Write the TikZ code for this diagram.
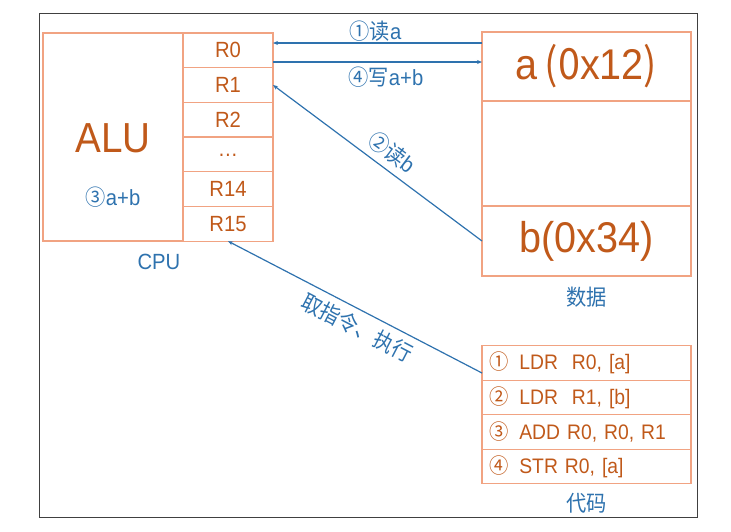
\documentclass[tikz,border=0pt]{standalone}
\usepackage{fontspec}
\setmainfont{Liberation Sans}[FakeStretch=0.92]
\newfontfamily\cjk{Noto Sans CJK SC}[FakeStretch=0.92]
\usetikzlibrary{arrows.meta, positioning}

\definecolor{salmon}{HTML}{F1A382}
\definecolor{rust}{HTML}{C0591A}
\definecolor{cpublue}{HTML}{2E72AE}

\begin{document}
\begin{tikzpicture}[
    x=1pt, y=-1pt,
    block/.style={rectangle, draw=salmon, line width=1.2pt, inner sep=0pt, outer sep=0pt},
    reg/.style={block, minimum width=90pt, minimum height=34.7pt, text=rust, font=\fontsize{22}{22}\selectfont},
    mem/.style={block, minimum width=209pt, text=rust, font=\fontsize{43}{43}\selectfont},
    codebox/.style={block, minimum height=34.5pt, text width=195pt, inner xsep=7pt, align=left, text=rust, font=\fontsize{21}{21}\selectfont},
    lbl/.style={text=cpublue, font=\fontsize{22}{22}\selectfont},
    line/.style={draw=cpublue, line width=1.2pt, -{Stealth[length=5pt,width=4pt]}}
]

\useasboundingbox (0,0) rectangle (731,531);
\draw[black!75, line width=1pt] (39,13) rectangle (697,517);

% CPU
\node [block, minimum width=140pt, minimum height=208pt] (alu) at (113,137) {};
\node [text=rust, font=\fontsize{42}{42}\selectfont] (alutext) at (113,138) {ALU};
\node [lbl] (sum) at (113,197) {{\cjk ③}a+b};
\node [reg] (r0) at (228,50.3) {R0};
\node [reg, below=0pt of r0] (r1) {R1};
\node [reg, below=0pt of r1] (r2) {R2};
\node [reg, below=0pt of r2] (rdots) {\raisebox{-4pt}{\dots}};
\node [reg, below=0pt of rdots] (r14) {R14};
\node [reg, below=0pt of r14] (r15) {R15};
\node [lbl] (cpu) at (159,262) {CPU};

% data
\node [mem, minimum height=69pt] (da) at (586.5,66.5) {a{\cjk\,(0}x12{\cjk )}};
\node [mem, minimum height=105pt, below=0pt of da] (dmid) {};
\node [mem, minimum height=70pt, below=0pt of dmid] (db) {b(0x34)};
\node [lbl, below=7pt of db] (data) {\cjk 数据};

% code
\node [codebox] (c1) at (586.5,363) {{\cjk ①}\hspace{11pt}LDR\ \ R0, [a]};
\node [codebox, below=0pt of c1] (c2) {{\cjk ②}\hspace{11pt}LDR\ \ R1, [b]};
\node [codebox, below=0pt of c2] (c3) {{\cjk ③}\hspace{11pt}ADD R0, R0, R1};
\node [codebox, below=0pt of c3] (c4) {{\cjk ④}\hspace{11pt}STR R0, [a]};
\node [lbl, below=6pt of c4] (code) {\cjk 代码};

\coordinate (ra) at ([yshift=-11pt]da.north west);
\coordinate (wb) at ([yshift=-30pt]da.north west);
\coordinate (fetch) at ([yshift=-10pt]c1.west);

\path [line] (ra) -- node[lbl, above=-2pt, pos=0.51] {{\cjk ①读}a} (ra -| r0.east);
\path [line] (wb -| r0.east) -- node[lbl, below=1pt, pos=0.54] {{\cjk ④写}a+b} (wb);
\path [line] (db.west) -- node[lbl, sloped, above=3pt, pos=0.48] {{\cjk ②读}b} (r1.east);
\path [line] (fetch) -- node[lbl, sloped, below=3pt, pos=0.46] {\cjk 取指令、执行} (r15.south);

\end{tikzpicture}
\end{document}
